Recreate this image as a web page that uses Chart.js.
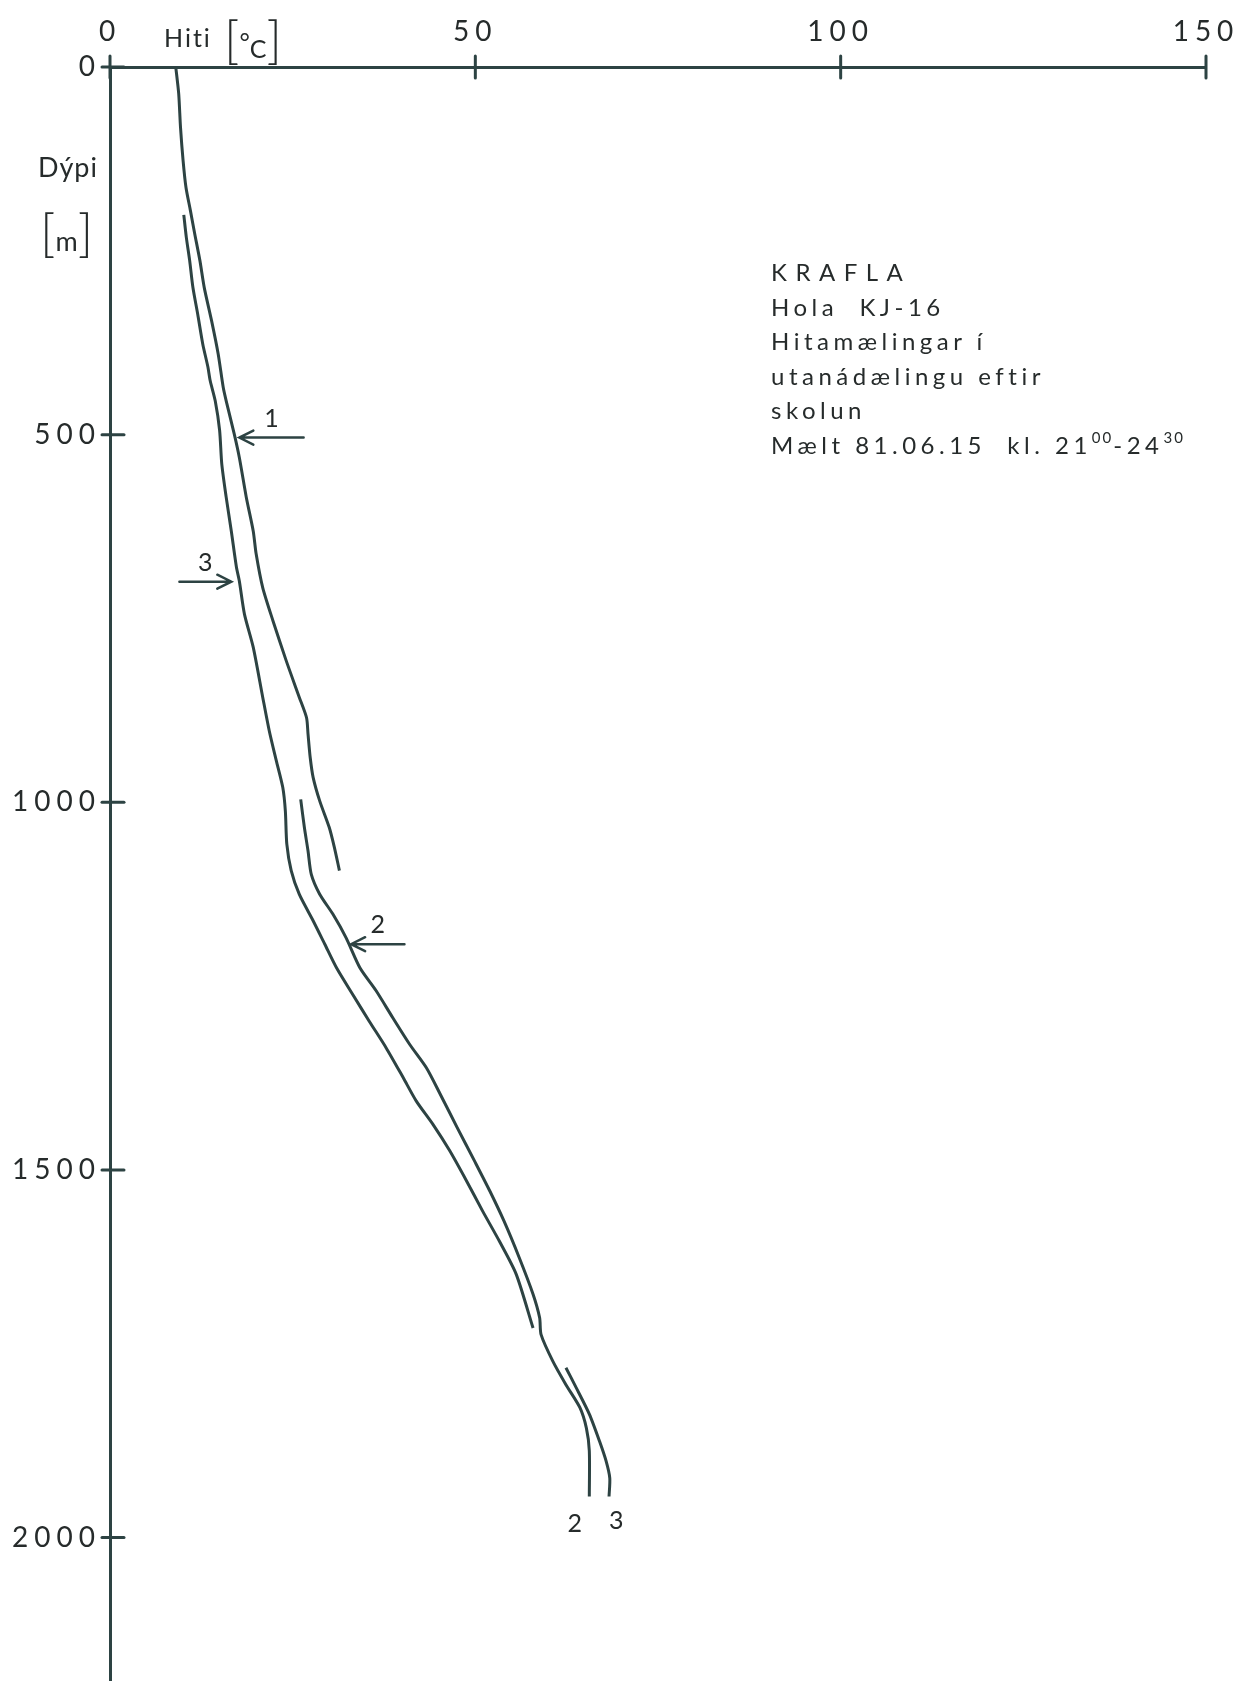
<!DOCTYPE html>
<html>
<head>
<meta charset="utf-8">
<title>Krafla KJ-16</title>
<script src="https://cdn.jsdelivr.net/npm/chart.js@4.4.1/dist/chart.umd.min.js"></script>
<style>
  html, body { margin: 0; padding: 0; background: #fff; }
  #wrap { position: relative; width: 1233px; height: 1681px; }
  .txt {
    position: absolute;
    font-family: Lato, 'Open Sans', sans-serif;
    font-weight: 400;
    color: #262b2b;
    white-space: nowrap;
  }
  .br { font-size: 52px; font-weight: 300; }
  .deg { position: relative; top: -7px; }
  .sup { font-size: 15px; position: relative; top: -11px; letter-spacing: 2px; }
</style>
</head>
<body>
<div id="wrap">
  <canvas id="grafico" width="1233" height="1681"></canvas>

  <div class="txt" style="left:164px; top:22px; font-size:25px; line-height:30px; letter-spacing:2px;">Hiti</div>
  <div class="txt" style="left:224px; top:12px; font-size:25px; line-height:52px;"><span class="br">[</span><span class="deg">°</span>C<span class="br">]</span></div>
  <div class="txt" style="left:38px; top:152px; font-size:27px; line-height:30px; letter-spacing:1px;">Dýpi</div>
  <div class="txt" style="left:40px; top:205px; font-size:27px; line-height:52px;"><span class="br">[</span>m<span class="br">]</span></div>

  <div class="txt" style="left:771px; top:255px; font-size:24px; line-height:34.5px; letter-spacing:4.5px;">
    <span style="letter-spacing:8.5px;">KRAFLA</span><br>
    Hola&nbsp; KJ-16<br>
    Hitamælingar í<br>
    utanádælingu eftir<br>
    skolun<br>
    Mælt 81.06.15&nbsp; kl. 21<span class="sup">00</span>-24<span class="sup">30</span>
  </div>
</div>

<script>
// ejes
const tempTicks = [0, 50, 100, 150];
const depthTicks = [0, 500, 1000, 1500, 2000];

// mæling 1
const curve1Depth = [0, 36, 82, 127, 164, 195, 227, 263, 300, 345, 390, 436, 454, 499, 531, 585, 631, 662, 708, 753, 807, 857, 885, 907, 939, 966, 998, 1034, 1061, 1093];
const curve1Temp = [9.0, 9.4, 9.65, 10.0, 10.4, 11.0, 11.6, 12.3, 12.9, 13.9, 14.8, 15.5, 15.9, 17.0, 17.7, 18.65, 19.6, 20.0, 20.9, 22.3, 24.1, 25.9, 26.9, 27.1, 27.4, 27.8, 28.7, 30.0, 30.7, 31.4];

// mæling 2
const curve2Depth = [996, 1034, 1066, 1098, 1125, 1152, 1184, 1225, 1256, 1293, 1329, 1361, 1397, 1442, 1488, 1529, 1569, 1619, 1669, 1701, 1724, 1760, 1792, 1823, 1851, 1882, 1944];
const curve2Temp = [26.1, 26.6, 27.1, 27.55, 28.7, 30.5, 32.3, 34.2, 36.4, 38.7, 41.0, 43.3, 45.2, 47.5, 49.9, 52.0, 53.9, 56.0, 57.9, 58.8, 59.0, 60.6, 62.4, 64.3, 65.2, 65.6, 65.6];

// mæling 3 (null = hidden behind curve 2)
const curve3Depth = [201, 232, 263, 300, 336, 377, 408, 426, 454, 494, 540, 585, 631, 680, 699, 744, 789, 857, 903, 943, 980, 1012, 1057, 1093, 1125, 1161, 1193, 1225, 1261, 1298, 1334, 1374, 1406, 1438, 1474, 1515, 1556, 1597, 1642, 1715, null, 1769, 1796, 1832, 1869, 1896, 1919, 1944];
const curve3Temp = [10.1, 10.45, 10.9, 11.35, 12.0, 12.7, 13.4, 13.7, 14.4, 15.0, 15.3, 15.9, 16.6, 17.3, 17.7, 18.4, 19.6, 20.9, 21.8, 22.75, 23.65, 24.0, 24.2, 24.8, 25.9, 27.8, 29.4, 31.0, 33.2, 35.5, 37.8, 40.1, 41.9, 44.2, 46.5, 48.8, 51.0, 53.3, 55.6, 57.9, null, 62.4, 63.8, 65.6, 67.0, 67.9, 68.4, 68.3];

// flechas
const arrowLabels = ['1', '2', '3'];
const arrowDepths = [504, 1193, 700];
const arrowTails = [26.5, 40.3, 9.5];
const arrowTips = [17.7, 33.0, 16.6];

// numeros al final de las curvas
const endLabels = ['2', '3'];
const endLabelTemps = [63.6, 69.3];
const endLabelDepths = [1982, 1977];

const ink = '#2d4343';
const textInk = '#262b2b';
const tickFont = { family: 'Lato', size: 28, weight: '400' };

const toPoints = function (depth, temp) {
  return depth.map((d, i) => ({ x: temp[i], y: d }));
};

const curveStyle = {
  showLine: true,
  borderColor: ink,
  borderWidth: 3,
  pointRadius: 0,
  tension: 0.25,
  fill: false,
  spanGaps: false,
};

// no extra room for the end labels, the plot box is fixed
const fixBox = function (size, value) {
  return function (scale) {
    scale[size] = value;
    scale.paddingLeft = 0;
    scale.paddingRight = 0;
    scale.paddingTop = 0;
    scale.paddingBottom = 0;
  };
};

const marcas = {
  id: 'marcas',
  beforeDraw(chart) {
    chart.ctx.letterSpacing = '6px';
  },
  afterDraw(chart) {
    const { ctx, chartArea, scales: { x, y } } = chart;
    ctx.save();
    ctx.strokeStyle = ink;
    ctx.lineWidth = 3;
    ctx.lineCap = 'round';

    // tick crosses
    for (let v of tempTicks) {
      let px = x.getPixelForValue(v);
      ctx.beginPath();
      ctx.moveTo(px, chartArea.top - 11);
      ctx.lineTo(px, chartArea.top + 11);
      ctx.stroke();
    }
    for (let v of depthTicks) {
      let py = y.getPixelForValue(v);
      ctx.beginPath();
      ctx.moveTo(chartArea.left - 8, py);
      ctx.lineTo(chartArea.left + 14, py);
      ctx.stroke();
    }

    // arrows
    ctx.lineWidth = 2.5;
    ctx.fillStyle = textInk;
    ctx.letterSpacing = '0px';
    ctx.font = '400 25px Lato, sans-serif';
    ctx.textAlign = 'center';
    ctx.textBaseline = 'middle';
    arrowLabels.forEach((lab, i) => {
      let py = y.getPixelForValue(arrowDepths[i]);
      let x0 = x.getPixelForValue(arrowTails[i]);
      let x1 = x.getPixelForValue(arrowTips[i]);
      let dir = x1 > x0 ? 1 : -1;
      ctx.beginPath();
      ctx.moveTo(x0, py);
      ctx.lineTo(x1, py);
      ctx.moveTo(x1 - dir * 14, py - 7);
      ctx.lineTo(x1, py);
      ctx.lineTo(x1 - dir * 14, py + 7);
      ctx.stroke();
      ctx.fillText(lab, (x0 + x1) / 2, py - 19);
    });

    endLabels.forEach((lab, i) => {
      ctx.fillText(lab, x.getPixelForValue(endLabelTemps[i]), y.getPixelForValue(endLabelDepths[i]));
    });
    ctx.restore();
  },
};

const chart = new Chart(document.getElementById('grafico').getContext('2d'), {
  type: 'scatter',
  data: {
    datasets: [
      { label: '1', data: toPoints(curve1Depth, curve1Temp), ...curveStyle },
      { label: '2', data: toPoints(curve2Depth, curve2Temp), ...curveStyle },
      { label: '3', data: toPoints(curve3Depth, curve3Temp), ...curveStyle },
    ],
  },
  options: {
    responsive: true,
    maintainAspectRatio: false,
    animation: false,
    layout: { padding: { top: 0, right: 27, bottom: 0, left: 0 } },
    plugins: {
      legend: { display: false },
      tooltip: { enabled: false },
    },
    scales: {
      x: {
        type: 'linear',
        position: 'top',
        min: 0,
        max: 150,
        grid: { display: false, drawTicks: false },
        border: { display: true, color: ink, width: 3 },
        afterBuildTicks: function (scale) {
          scale.ticks = tempTicks.map((v) => ({ value: v }));
        },
        afterFit: fixBox('height', 67),
        ticks: {
          color: textInk,
          font: tickFont,
          padding: 18,
          maxRotation: 0,
          autoSkip: false,
          callback: (v) => String(v),
        },
      },
      y: {
        type: 'linear',
        position: 'left',
        reverse: true,
        min: 0,
        max: 2195,
        grid: { display: false, drawTicks: false },
        border: { display: true, color: ink, width: 3 },
        afterBuildTicks: function (scale) {
          scale.ticks = depthTicks.map((v) => ({ value: v }));
        },
        afterFit: fixBox('width', 110),
        ticks: {
          color: textInk,
          font: tickFont,
          padding: 9,
          autoSkip: false,
          callback: (v) => String(v),
        },
      },
    },
  },
  plugins: [marcas],
});
</script>
</body>
</html>
